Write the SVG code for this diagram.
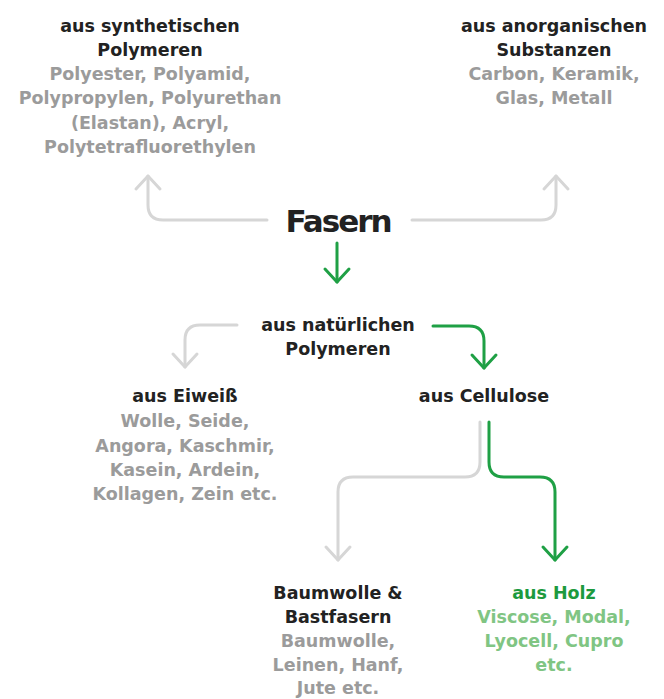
<svg xmlns="http://www.w3.org/2000/svg" width="664" height="699" viewBox="0 0 664 699">
<style>
text{font-family:"DejaVu Sans","Liberation Sans",sans-serif;font-weight:bold;font-size:17.5px;text-anchor:middle}
.h{fill:#222222}
.g{fill:#9b9b9b}
.gh{fill:#1d9a3e}
.gl{fill:#80c583}
.big{font-size:31px;letter-spacing:-2px}
.c{fill:none;stroke-width:3;stroke-linecap:round;stroke-linejoin:round}
.cg{stroke:#d6d6d6}
.cgr{stroke:#1fa045}
</style>
<defs>
<marker id="ag" viewBox="-16 -16 32 32" refX="0" refY="0" markerWidth="32" markerHeight="32" markerUnits="userSpaceOnUse" orient="auto">
<path d="M -13 -12 L 0 0 L -13 12" fill="none" stroke="#d6d6d6" stroke-width="3" stroke-linecap="round" stroke-linejoin="round"/>
</marker>
<marker id="agr" viewBox="-16 -16 32 32" refX="0" refY="0" markerWidth="32" markerHeight="32" markerUnits="userSpaceOnUse" orient="auto">
<path d="M -13 -12 L 0 0 L -13 12" fill="none" stroke="#1fa045" stroke-width="3" stroke-linecap="round" stroke-linejoin="round"/>
</marker>
</defs>
<rect width="664" height="699" fill="#ffffff"/>
<g id="connectors">
<path class="c cg" d="M 267 220 H 163 Q 148 220 148 205 V 176" marker-end="url(#ag)"/>
<path class="c cg" d="M 412 220 H 541 Q 556 220 556 205 V 176" marker-end="url(#ag)"/>
<path class="c cgr" d="M 337 243 V 282" marker-end="url(#agr)"/>
<path class="c cg" d="M 237 325 H 200 Q 185 325 185 340 V 367" marker-end="url(#ag)"/>
<path class="c cgr" d="M 433 326 H 469 Q 484 326 484 341 V 368" marker-end="url(#agr)"/>
<path class="c cg" d="M 480 422 V 462 Q 480 477 465 477 H 353 Q 338 477 338 492 V 560" marker-end="url(#ag)"/>
<path class="c cgr" d="M 489 422 V 462 Q 489 477 504 477 H 540 Q 555 477 555 492 V 560" marker-end="url(#agr)"/>
</g>
<g id="synthetisch">
<text class="h" x="150" y="32">aus synthetischen</text>
<text class="h" x="150" y="56">Polymeren</text>
<text class="g" x="150" y="80">Polyester, Polyamid,</text>
<text class="g" x="150" y="104">Polypropylen, Polyurethan</text>
<text class="g" x="150" y="129">(Elastan), Acryl,</text>
<text class="g" x="150" y="153">Polytetrafluorethylen</text>
</g>
<g id="anorganisch">
<text class="h" x="554" y="32">aus anorganischen</text>
<text class="h" x="554" y="56">Substanzen</text>
<text class="g" x="554" y="80">Carbon, Keramik,</text>
<text class="g" x="554" y="104">Glas, Metall</text>
</g>
<g id="fasern">
<text class="h big" x="338" y="232">Fasern</text>
</g>
<g id="natuerlich">
<text class="h" x="338" y="331">aus natürlichen</text>
<text class="h" x="338" y="355">Polymeren</text>
</g>
<g id="eiweiss">
<text class="h" x="185" y="402">aus Eiweiß</text>
<text class="g" x="185" y="427">Wolle, Seide,</text>
<text class="g" x="185" y="452">Angora, Kaschmir,</text>
<text class="g" x="185" y="476">Kasein, Ardein,</text>
<text class="g" x="185" y="500">Kollagen, Zein etc.</text>
</g>
<g id="cellulose">
<text class="h" x="484" y="402">aus Cellulose</text>
</g>
<g id="baumwolle">
<text class="h" x="338" y="599">Baumwolle &amp;</text>
<text class="h" x="338" y="623">Bastfasern</text>
<text class="g" x="338" y="647">Baumwolle,</text>
<text class="g" x="338" y="671">Leinen, Hanf,</text>
<text class="g" x="338" y="694">Jute etc.</text>
</g>
<g id="holz">
<text class="gh" x="554" y="599">aus Holz</text>
<text class="gl" x="554" y="623">Viscose, Modal,</text>
<text class="gl" x="554" y="647">Lyocell, Cupro</text>
<text class="gl" x="554" y="671">etc.</text>
</g>
</svg>
